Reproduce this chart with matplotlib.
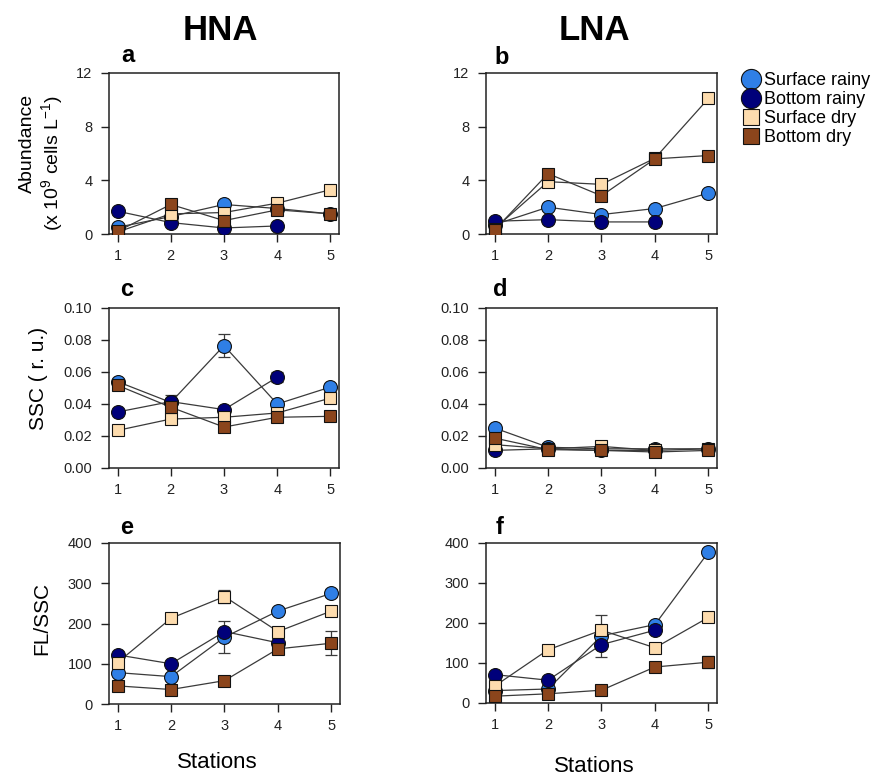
import matplotlib
matplotlib.use('Agg')
import matplotlib.pyplot as plt
import numpy as np
from matplotlib.lines import Line2D

plt.rcParams['font.family'] = ['Liberation Sans', 'DejaVu Sans']
plt.rcParams['mathtext.fontset'] = 'custom'
plt.rcParams['mathtext.rm'] = 'Liberation Sans'
plt.rcParams['mathtext.it'] = 'Liberation Sans:italic'
plt.rcParams['mathtext.bf'] = 'Liberation Sans:bold'

nan = np.nan
stations = [1, 2, 3, 4, 5]
series_names = ['Surface rainy', 'Bottom rainy', 'Surface dry', 'Bottom dry']

# Panel a: HNA abundance
hna_abund_surf_rainy = [0.5, 1.3, 2.2, 1.9, 1.5]
hna_abund_bot_rainy = [1.7, 0.85, 0.45, 0.6, nan]
hna_abund_surf_dry = [0.15, 1.5, 1.6, 2.3, 3.3]
hna_abund_bot_dry = [0.2, 2.2, 1.0, 1.8, 1.5]

# Panel b: LNA abundance
lna_abund_surf_rainy = [0.7, 2.0, 1.45, 1.9, 3.05]
lna_abund_bot_rainy = [0.95, 1.07, 0.9, 0.9, nan]
lna_abund_surf_dry = [0.4, 3.9, 3.7, 5.65, 10.1]
lna_abund_bot_dry = [0.3, 4.5, 2.85, 5.6, 5.85]

# Panel c: HNA SSC
hna_ssc_surf_rainy = [0.054, 0.041, 0.0765, 0.040, 0.0506]
hna_ssc_bot_rainy = [0.035, 0.0415, 0.0365, 0.0567, nan]
hna_ssc_surf_dry = [0.0235, 0.0306, 0.0317, 0.0344, 0.0437]
hna_ssc_bot_dry = [0.0517, 0.038, 0.0256, 0.0317, 0.0323]
hna_ssc_err_surf_rainy = [0, 0, 0.007, 0, 0]
hna_ssc_err_bot_rainy = [0, 0.004, 0, 0.003, 0]
hna_ssc_err_surf_dry = [0, 0.003, 0, 0, 0]
hna_ssc_err_bot_dry = [0, 0, 0, 0, 0]

# Panel d: LNA SSC
lna_ssc_surf_rainy = [0.025, 0.013, 0.012, 0.012, 0.012]
lna_ssc_bot_rainy = [0.011, 0.012, 0.011, 0.011, nan]
lna_ssc_surf_dry = [0.0146, 0.012, 0.0135, 0.011, 0.012]
lna_ssc_bot_dry = [0.0187, 0.0115, 0.011, 0.010, 0.011]

# Panel e: HNA FL/SSC
hna_fl_surf_rainy = [78, 68, 166, 231, 275]
hna_fl_bot_rainy = [122, 100, 180, 152, nan]
hna_fl_surf_dry = [103, 213, 267, 180, 231]
hna_fl_bot_dry = [45, 36, 58, 137, 151]
hna_fl_err_surf_rainy = [0, 0, 40, 0, 10]
hna_fl_err_bot_rainy = [0, 0, 0, 0, 0]
hna_fl_err_surf_dry = [0, 0, 15, 12, 8]
hna_fl_err_bot_dry = [0, 0, 0, 0, 30]

# Panel f: LNA FL/SSC
lna_fl_surf_rainy = [31, 35, 168, 196, 377]
lna_fl_bot_rainy = [71, 57, 146, 182, nan]
lna_fl_surf_dry = [42, 133, 182, 138, 214]
lna_fl_bot_dry = [17, 23, 32, 90, 102]
lna_fl_err_surf_rainy = [0, 0, 53, 0, 0]
lna_fl_err_bot_rainy = [0, 0, 0, 0, 0]
lna_fl_err_surf_dry = [0, 0, 0, 0, 6]
lna_fl_err_bot_dry = [0, 0, 0, 0, 15]

zeros = [0, 0, 0, 0, 0]

colors = ['#2f7fe6', '#00007a', '#fddcae', '#8b451c']
markers = ['o', 'o', 's', 's']
msizes = [10, 10, 9, 9]

W, H = 882, 778
fig = plt.figure(figsize=(W / 100, H / 100), dpi=100)


def axes_px(left, top, right, bottom):
    return fig.add_axes([left / W, 1 - bottom / H, (right - left) / W, (bottom - top) / H])


panels = [
    dict(box=(109, 73, 339, 234), ys=[hna_abund_surf_rainy, hna_abund_bot_rainy, hna_abund_surf_dry, hna_abund_bot_dry],
         errs=[zeros] * 4, ylim=(0, 12), yticks=[0, 4, 8, 12], fmt='{:.0f}', letter='a', lpos=(128, 55)),
    dict(box=(486, 73, 717, 234), ys=[lna_abund_surf_rainy, lna_abund_bot_rainy, lna_abund_surf_dry, lna_abund_bot_dry],
         errs=[zeros] * 4, ylim=(0, 12), yticks=[0, 4, 8, 12], fmt='{:.0f}', letter='b', lpos=(502, 57)),
    dict(box=(109, 308, 339, 468), ys=[hna_ssc_surf_rainy, hna_ssc_bot_rainy, hna_ssc_surf_dry, hna_ssc_bot_dry],
         errs=[hna_ssc_err_surf_rainy, hna_ssc_err_bot_rainy, hna_ssc_err_surf_dry, hna_ssc_err_bot_dry],
         ylim=(0, 0.1), yticks=[0, 0.02, 0.04, 0.06, 0.08, 0.10], fmt='{:.2f}', letter='c', lpos=(127, 290)),
    dict(box=(486, 308, 717, 468), ys=[lna_ssc_surf_rainy, lna_ssc_bot_rainy, lna_ssc_surf_dry, lna_ssc_bot_dry],
         errs=[zeros] * 4, ylim=(0, 0.1), yticks=[0, 0.02, 0.04, 0.06, 0.08, 0.10], fmt='{:.2f}', letter='d', lpos=(500, 290)),
    dict(box=(109, 543, 340, 704), ys=[hna_fl_surf_rainy, hna_fl_bot_rainy, hna_fl_surf_dry, hna_fl_bot_dry],
         errs=[hna_fl_err_surf_rainy, hna_fl_err_bot_rainy, hna_fl_err_surf_dry, hna_fl_err_bot_dry],
         ylim=(0, 400), yticks=[0, 100, 200, 300, 400], fmt='{:.0f}', letter='e', lpos=(127, 528)),
    dict(box=(486, 543, 717, 703), ys=[lna_fl_surf_rainy, lna_fl_bot_rainy, lna_fl_surf_dry, lna_fl_bot_dry],
         errs=[lna_fl_err_surf_rainy, lna_fl_err_bot_rainy, lna_fl_err_surf_dry, lna_fl_err_bot_dry],
         ylim=(0, 400), yticks=[0, 100, 200, 300, 400], fmt='{:.0f}', letter='f', lpos=(500, 528)),
]

x = np.array(stations, dtype=float)
for p in panels:
    ax = axes_px(*p['box'])
    for i, (y, e) in enumerate(zip(p['ys'], p['errs'])):
        y = np.array(y, dtype=float)
        e = np.array(e, dtype=float)
        ax.plot(x, y, '-', color='#3a3a3a', lw=0.9, zorder=2)
        m = e > 0
        if m.any():
            ax.errorbar(x[m], y[m], yerr=e[m], fmt='none', ecolor='#3a3a3a', elinewidth=0.9,
                        capsize=4.5, capthick=0.9, zorder=2)
    for i, y in enumerate(p['ys']):
        ax.plot(x, np.array(y, dtype=float), linestyle='none', marker=markers[i], ms=msizes[i],
                mfc=colors[i], mec='#111111', mew=0.8, zorder=3 + i)
    ax.set_xlim(0.84, 5.16)
    ax.set_ylim(*p['ylim'])
    ax.set_xticks(stations)
    ax.set_xticklabels([str(s) for s in stations])
    ax.set_yticks(p['yticks'])
    ax.set_yticklabels([p['fmt'].format(v) for v in p['yticks']])
    ax.tick_params(direction='out', length=6, width=1, labelsize=10.5, pad=5, colors='#222222')
    ax.tick_params(axis='y', pad=6)
    for s in ax.spines.values():
        s.set_linewidth(1.1)
        s.set_color('#222222')
    fig.text(p['lpos'][0] / W, 1 - p['lpos'][1] / H, p['letter'], fontsize=17, fontweight='bold',
             ha='center', va='center')

fig.text(220 / W, 1 - 30 / H, 'HNA', fontsize=25, fontweight='bold', ha='center', va='center')
fig.text(594 / W, 1 - 30 / H, 'LNA', fontsize=25, fontweight='bold', ha='center', va='center')

fig.text(27 / W, 1 - 143 / H, 'Abundance', fontsize=14, rotation=90, ha='center', va='center')
fig.text(52 / W, 1 - 163 / H, '(x 10$^{9}$ cells L$^{-1}$)', fontsize=14, rotation=90, ha='center', va='center')
fig.text(38 / W, 1 - 378 / H, 'SSC ( r. u.)', fontsize=15, rotation=90, ha='center', va='center')
fig.text(42 / W, 1 - 618 / H, 'FL/SSC', fontsize=15, rotation=90, ha='center', va='center')
fig.text(217 / W, 1 - 763 / H, 'Stations', fontsize=16, ha='center', va='center')
fig.text(594 / W, 1 - 766 / H, 'Stations', fontsize=16, ha='center', va='center')

handles = [Line2D([], [], linestyle='none', marker=markers[i], ms=(14.5 if i < 2 else 11),
                  mfc=colors[i], mec='#111111', mew=0.8) for i in range(4)]
fig.legend(handles, series_names, loc='upper left', bbox_to_anchor=(742 / W, 1 - 72 / H),
           frameon=False, fontsize=13, handletextpad=0.2, labelspacing=0.12,
           handlelength=1.0, borderaxespad=0, borderpad=0)

fig.savefig('out.png', dpi=100)
